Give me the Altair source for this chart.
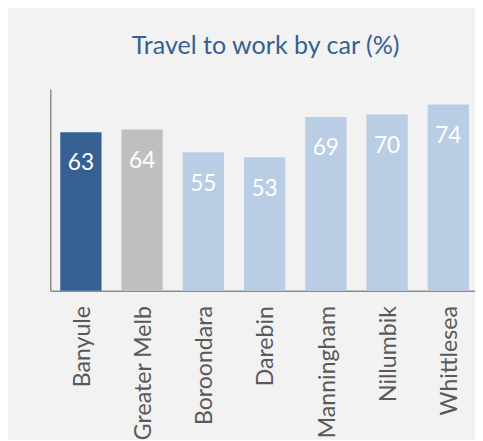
import altair as alt
import pandas as pd

categories = ["Banyule", "Greater Melb", "Boroondara", "Darebin", "Manningham", "Nillumbik", "Whittlesea"]
values = [63, 64, 55, 53, 69, 70, 74]
bar_colors = ["#366092", "#bfbfbf", "#b9cde5", "#b9cde5", "#b9cde5", "#b9cde5", "#b9cde5"]
title_text = "Travel to work by car (%)"

df = pd.DataFrame({"area": categories, "pct": values, "color": bar_colors})

FONT = "Lato"

x = alt.X(
    "area:N",
    sort=categories,
    title=None,
    scale=alt.Scale(range=[0, 436], paddingInner=0.326, paddingOuter=0.163),
    axis=alt.Axis(
        labelAngle=-90,
        labelFont=FONT,
        labelFontSize=23.5,
        labelColor="#595959",
        labelPadding=15,
        labelOffset=2,
        ticks=False,
        domainColor="#8c8c8c",
        domainWidth=1.5,
        grid=False,
    ),
)
y = alt.Y(
    "pct:Q",
    title=None,
    scale=alt.Scale(domain=[0, 80], nice=False),
    axis=alt.Axis(labels=False, ticks=False, grid=False, domainColor="#8c8c8c", domainWidth=1.5),
)

bars = alt.Chart(df).mark_bar().encode(
    x=x, y=y, color=alt.Color("color:N", scale=None)
)
labels = alt.Chart(df).mark_text(
    font=FONT, fontSize=23, color="white", baseline="alphabetic", align="center", dy=39
).encode(x=x, y=y, text="pct:Q")

chart = (
    alt.layer(bars, labels)
    .properties(
        width=432,
        height=205,
        title=alt.TitleParams(
            title_text, font=FONT, fontSize=25.5, fontWeight="normal", color="#366092",
            anchor="middle", offset=30, dx=3,
        ),
        autosize=alt.AutoSizeParams(type="none"),
        padding={"left": 43, "top": 79, "right": 0, "bottom": 148},
    )
    .configure(background="#f2f2f2")
    .configure_view(stroke=None)
)

chart.save("out.html", embed_options={"renderer": "svg", "actions": False})
